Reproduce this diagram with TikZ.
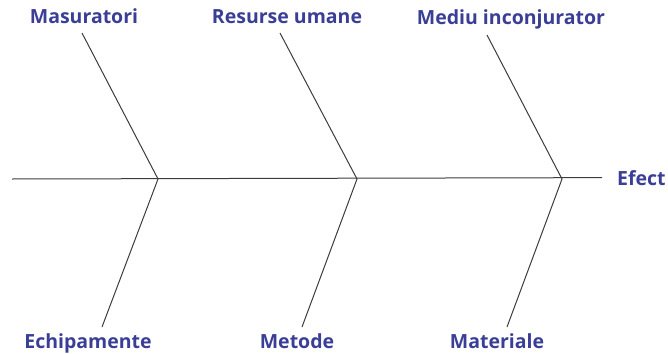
\documentclass[tikz,border=0pt]{standalone}
\usepackage{fontspec}
\setmainfont{Open Sans}
\definecolor{causeblue}{RGB}{58,62,150}
\definecolor{bonegray}{RGB}{60,60,60}

\begin{document}
\begin{tikzpicture}[
  x=1pt, y=-1pt,
  every node/.style = {font=\bfseries\fontsize{19.5}{22}\selectfont, text=causeblue, inner sep=0pt, anchor=base},
  bone/.style = {line width=1pt, draw=bonegray},
]
\useasboundingbox (0,0) rectangle (668,353);

%% ── Spine and junctions ──────────────────────────────────────────────────────
\coordinate (tail) at (12, 179);
\coordinate (j1) at (158, 179);
\coordinate (j2) at (357, 179);
\coordinate (j3) at (562, 179);
\node[anchor=base west] (efect) at (617, 185) {Efect};

%% ── Cause labels (top row) ───────────────────────────────────────────────────
\node (masur) at (84, 24) {Masuratori};
\node (resurse) at (287, 24) {Resurse umane};
\node (mediu) at (511, 25) {Mediu inconjurator};

%% ── Cause labels (bottom row) ────────────────────────────────────────────────
\node (echip) at (88, 348) {Echipamente};
\node (metode) at (297, 348) {Metode};
\node (mater) at (497, 348) {Materiale};

%% ── Bone ends ────────────────────────────────────────────────────────────────
\coordinate (masurEnd) at (82, 33);
\coordinate (resurseEnd) at (280, 33);
\coordinate (mediuEnd) at (487, 35);
\coordinate (echipEnd) at (102, 327);
\coordinate (metodeEnd) at (302, 327);
\coordinate (materEnd) at (507, 327);

%% ── Drawing ──────────────────────────────────────────────────────────────────
\draw[bone] (tail) -- ([xshift=-15pt]efect.west);
\draw[bone] (masurEnd) -- (j1) -- (echipEnd);
\draw[bone] (resurseEnd) -- (j2) -- (metodeEnd);
\draw[bone] (mediuEnd) -- (j3) -- (materEnd);

\end{tikzpicture}
\end{document}
